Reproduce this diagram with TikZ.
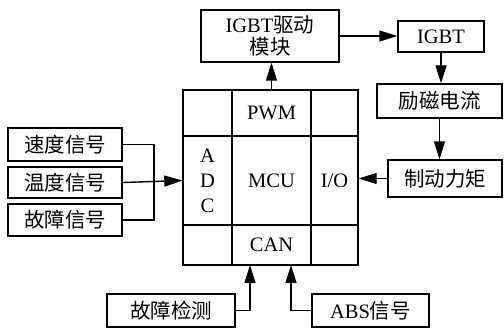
\documentclass[tikz,border=0pt]{standalone}
\usepackage{fontspec}
\setmainfont{Liberation Serif}
\newfontfamily\cjk{Noto Sans CJK SC}
\usetikzlibrary{arrows.meta,positioning,calc}
\begin{document}
\begin{tikzpicture}[x=1pt,y=-1pt,
  lw/.style={line width=1.4pt},
  box/.style={draw,lw,inner sep=0pt,font=\fontsize{20.5}{22}\selectfont,align=center},
  cell/.style={draw,lw,inner sep=0pt,font=\fontsize{20.5}{25}\selectfont,align=center},
  conn/.style={lw,-{Triangle[length=18pt,width=11pt]}},
  plain/.style={lw}]
\useasboundingbox (0,0) rectangle (504,328);
% boxes
\newcommand{\boxat}[6]{\node[box,minimum width={#4-#2},minimum height={#5-#3}] (#1) at ({(#2+#4)/2},{(#3+#5)/2}) {#6};}
\newcommand{\cellat}[6]{\node[cell,minimum width={#4-#2},minimum height={#5-#3}] (#1) at ({(#2+#4)/2},{(#3+#5)/2}) {#6};}
\boxat{drv}{201}{10}{339}{62}{IGBT{\cjk 驱动}\\{\cjk 模块}}
\boxat{igbt}{398}{21}{484}{52}{IGBT}
\boxat{lc}{377}{84}{502}{118}{\cjk 励磁电流}
\boxat{zd}{388}{160}{502}{197}{\cjk 制动力矩}
\boxat{sd}{8}{128}{122}{161}{\cjk 速度信号}
\boxat{wd}{8}{167}{122}{198}{\cjk 温度信号}
\boxat{gz}{8}{204}{122}{236}{\cjk 故障信号}
\boxat{jc}{107}{294}{235}{327}{\cjk 故障检测}
\boxat{abs}{312}{294}{429}{327}{ABS{\cjk 信号}}
% MCU grid
\cellat{c11}{183}{90}{232}{136}{}
\cellat{c12}{232}{90}{311}{136}{PWM}
\cellat{c13}{311}{90}{358}{136}{}
\cellat{c21}{183}{136}{232}{225}{A\\D\\C}
\cellat{c22}{232}{136}{311}{225}{MCU}
\cellat{c23}{311}{136}{358}{225}{I/O}
\cellat{c31}{183}{225}{232}{265}{}
\cellat{c32}{232}{225}{311}{265}{CAN}
\cellat{c33}{311}{225}{358}{265}{}
% connectors
\coordinate (bus) at (154,183);
\draw[plain] (sd.east) -| (bus);
\draw[plain] (gz.east) -| (bus);
\draw[conn] (wd.east) -- (c21.west);
\draw[conn] (c12.north) -- (c12.north |- drv.south);
\draw[conn] (drv.east) -- (drv.east -| igbt.west);
\draw[conn] (igbt.south) -- (igbt.south |- lc.north);
\draw[conn] (lc.south) -- (lc.south |- zd.north);
\draw[conn] (zd.west) -- (zd.west -| c23.east);
\coordinate (jcup) at (250,265);
\coordinate (absup) at (291,265);
\draw[conn] (jc.east) -| (jcup);
\draw[conn] (abs.west) -| (absup);
\end{tikzpicture}
\end{document}
